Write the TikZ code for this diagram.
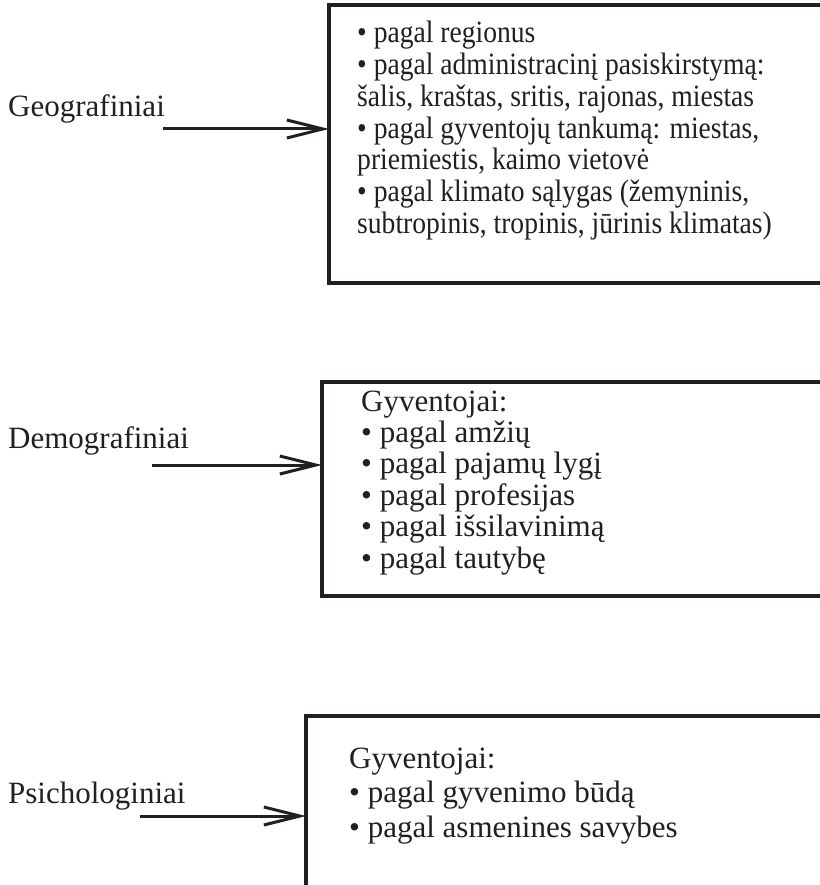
\documentclass[tikz,border=0pt]{standalone}
\usepackage{fontspec}
\setmainfont{Liberation Serif}
\newfontfamily\condfont[FakeStretch=0.89]{Liberation Serif}
\usetikzlibrary{arrows.meta}
\definecolor{ink}{HTML}{231F20}
\begin{document}
\begin{tikzpicture}[x=1pt,y=-1pt,
  box/.style={draw=ink, line width=3.2pt, inner sep=0pt, outer sep=0pt, anchor=north west},
  lab/.style={anchor=base west, inner sep=0pt, text=ink, font=\fontsize{31}{32}\selectfont},
  ctxt/.style={anchor=base west, inner sep=0pt, text=ink, font=\fontsize{31}{32}\condfont},
  conn/.style={draw=ink, line width=3pt, -{Straight Barb[length=36pt,width=18pt]}}]
\useasboundingbox (0,0) rectangle (819,885);

% boxes (right sides run past the picture edge)
\node[box, minimum width=540pt, minimum height=278pt] (b1) at (329,5) {};
\node[box, minimum width=540pt, minimum height=214pt] (b2) at (322,382) {};
\node[box, minimum width=540pt, minimum height=200pt] (b3) at (306,716) {};

% left labels
\node[lab] (l1) at (8,117) {Geografiniai};
\node[lab] (l2) at (8,448) {Demografiniai};
\node[lab] (l3) at (8,803) {Psichologiniai};

% connectors
\coordinate (s1) at (163,129);
\coordinate (s2) at (152,465);
\coordinate (s3) at (140,816);
\draw[conn] (s1) -- (s1 -| b1.west);
\draw[conn] (s2) -- (s2 -| b2.west);
\draw[conn] (s3) -- (s3 -| b3.west);

% box 1 text
\foreach \t [count=\i] in {%
  {• pagal regionus},
  {• pagal administracinį pasiskirstymą:},
  {šalis, kraštas, sritis, rajonas, miestas},
  {• pagal gyventojų tankumą: miestas,},
  {priemiestis, kaimo vietovė},
  {• pagal klimato sąlygas (žemyninis,},
  {subtropinis, tropinis, jūrinis klimatas)}}
  {\node[ctxt] (t1\i) at (357,{43+31.7*(\i-1)}) {\t};}

% box 2 text
\foreach \t [count=\i] in {%
  {Gyventojai:},
  {• pagal amžių},
  {• pagal pajamų lygį},
  {• pagal profesijas},
  {• pagal išsilavinimą},
  {• pagal tautybę}}
  {\node[lab] (t2\i) at (361,{411+31.4*(\i-1)}) {\t};}

% box 3 text
\foreach \t [count=\i] in {%
  {Gyventojai:},
  {• pagal gyvenimo būdą},
  {• pagal asmenines savybes}}
  {\node[lab] (t3\i) at (349,{768+34.5*(\i-1)}) {\t};}
\end{tikzpicture}
\end{document}
